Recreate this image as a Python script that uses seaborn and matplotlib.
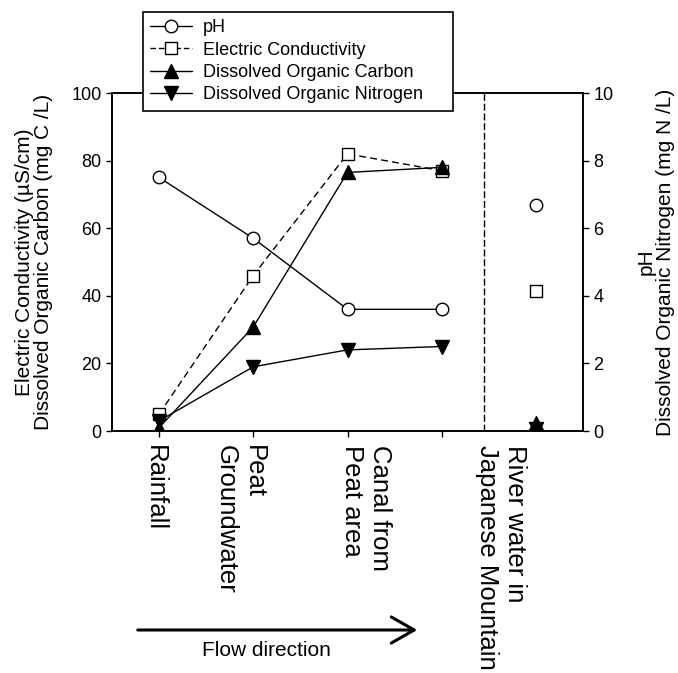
import matplotlib
matplotlib.use("Agg")
import matplotlib.pyplot as plt
from matplotlib.lines import Line2D
from matplotlib.patches import FancyArrowPatch
import seaborn as sns

# sampling sites along the flow path (x = 0..3) and the reference river (x = 4)
site_labels = ["Rainfall", "Peat\nGroundwater", "Canal from\nPeat area",
               "River water in\nJapanese Mountain"]
label_x = [-0.04, 0.86, 2.2, 3.63]
site_pos = [0, 1, 2, 3]
river_pos = [4]

# right axis (0-10)
ph = [7.5, 5.7, 3.6, 3.6]
ph_river = [6.7]
don = [0.3, 1.9, 2.4, 2.5]
don_river = [0.05]

# left axis (0-100)
ec = [5.0, 46.0, 82.0, 77.0]
ec_river = [41.5]
doc = [1.0, 30.8, 76.5, 78.0]
doc_river = [2.3]

sns.set_style("ticks")
plt.rcParams['font.family'] = ['Liberation Sans', 'DejaVu Sans']
plt.rcParams['text.color'] = 'black'
plt.rcParams['axes.labelcolor'] = 'black'

fig = plt.figure(figsize=(6.78, 6.73), dpi=100)
ax = fig.add_axes([112 / 678, 1 - 431 / 673, 471 / 678, 338 / 673])
ax2 = ax.twinx()

open_kw = dict(markerfacecolor='white', markeredgecolor='black', markeredgewidth=1)
fill_kw = dict(markerfacecolor='black', markeredgecolor='black', markeredgewidth=1)

# left axis series
sns.lineplot(x=site_pos, y=ec, ax=ax, color='black', linestyle=(0, (5, 3)), linewidth=1,
             marker='s', markersize=9, **open_kw)
sns.lineplot(x=site_pos, y=doc, ax=ax, color='black', linewidth=1,
             marker='^', markersize=10, **fill_kw)
sns.scatterplot(x=river_pos, y=ec_river, ax=ax, marker='s', s=81,
                color='white', edgecolor='black', linewidth=1)
sns.scatterplot(x=river_pos, y=doc_river, ax=ax, marker='^', s=100,
                color='black', edgecolor='black', linewidth=1)

# right axis series
sns.lineplot(x=site_pos, y=ph, ax=ax2, color='black', linewidth=1,
             marker='o', markersize=9, **open_kw)
sns.lineplot(x=site_pos, y=don, ax=ax2, color='black', linewidth=1,
             marker='v', markersize=10, **fill_kw)
sns.scatterplot(x=river_pos, y=ph_river, ax=ax2, marker='o', s=81,
                color='white', edgecolor='black', linewidth=1)
sns.scatterplot(x=river_pos, y=don_river, ax=ax2, marker='v', s=100,
                color='black', edgecolor='black', linewidth=1)

ax.axvline(3.45, color='black', linestyle=(0, (5, 2)), linewidth=1)

ax.set_xlim(-0.5, 4.5)
ax.set_ylim(0, 100)
ax2.set_ylim(0, 10)
ax.set_xticks(site_pos)
ax.set_xticklabels([])
ax.set_yticks(range(0, 101, 20))
ax2.set_yticks(range(0, 11, 2))
for a in (ax, ax2):
    a.tick_params(direction='out', length=4, width=1, labelsize=13, colors='black')
    for sp in a.spines.values():
        sp.set_linewidth(1.2)
        sp.set_color('black')
ax.set_xlabel('')

for x, lab in zip(label_x, site_labels):
    ax.text(x, -0.04, lab, transform=ax.get_xaxis_transform(), rotation=-90,
            ha='center', va='top', multialignment='left', fontsize=18.5,
            linespacing=1.2)

ax.set_ylabel("Electric Conductivity (\u00b5S/cm)\nDissolved Organic Carbon (mg C /L)",
              fontsize=15, linespacing=1.0)
ax.yaxis.set_label_coords(-0.125, 0.5)
ax2.set_ylabel("pH\nDissolved Organic Nitrogen (mg N /L)", fontsize=15,
               linespacing=1.0, rotation=90, va='top', multialignment='center')
ax2.yaxis.set_label_coords(1.115, 0.5)

handles = [
    Line2D([], [], color='black', lw=1, marker='o', markersize=9, **open_kw),
    Line2D([], [], color='black', lw=1, linestyle=(0, (4, 2)), marker='s', markersize=9, **open_kw),
    Line2D([], [], color='black', lw=1, marker='^', markersize=10, **fill_kw),
    Line2D([], [], color='black', lw=1, marker='v', markersize=10, **fill_kw),
]
labels = ["pH", "Electric Conductivity", "Dissolved Organic Carbon",
          "Dissolved Organic Nitrogen"]
leg = fig.legend(handles, labels, loc='upper left', mode='expand', borderaxespad=0,
                 bbox_to_anchor=(143 / 678, 1 - 113 / 673, 310 / 678, 101 / 673),
                 frameon=True, fancybox=False, framealpha=1, edgecolor='black',
                 fontsize=13, handlelength=2.3, labelspacing=0.3, borderpad=0.4,
                 handletextpad=0.6)
leg.get_frame().set_linewidth(1.2)

# flow direction arrow under the site labels
fig.patches.append(FancyArrowPatch(
    (135 / 678, 1 - 630 / 673), (420 / 678, 1 - 630 / 673), transform=fig.transFigure,
    arrowstyle='->,head_length=0.35,head_width=0.2', mutation_scale=47,
    linewidth=2.2, color='black'))
fig.text(266 / 678, 1 - 650 / 673, "Flow direction", ha='center', va='center', fontsize=15)

fig.savefig("out.png", dpi=100)
